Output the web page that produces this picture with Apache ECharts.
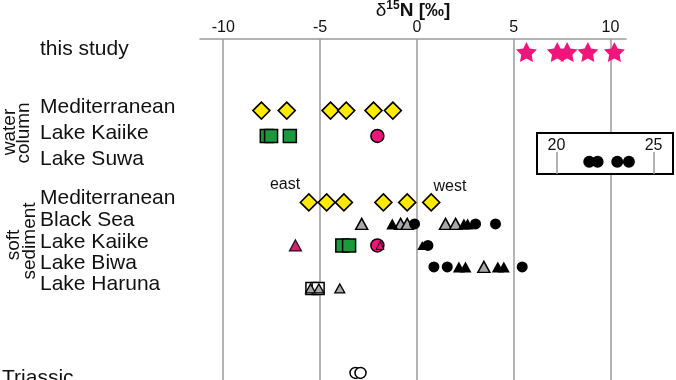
<!DOCTYPE html>
<html>
<head>
<meta charset="utf-8">
<script src="https://cdn.jsdelivr.net/npm/echarts@6/dist/echarts.min.js"></script>
<style>html,body{margin:0;padding:0;background:#fff}#c{width:676px;height:380px}</style>
</head>
<body>
<div id="c"></div>
<script>
// ---- categories (rows) ----
const rowNames = ['this study', 'Mediterranean', 'Lake Kaiike', 'Lake Suwa', 'Mediterranean', 'Black Sea', 'Lake Kaiike', 'Lake Biwa', 'Lake Haruna', 'Triassic'];
// ---- x tick labels ----
const xTicks = [-10, -5, 0, 5, 10];
const insetTicks = [20, 25];
// ---- δ15N values (‰) ----
const thisStudyStars = [5.66, 7.25, 7.76, 8.83, 10.2];
const medWaterDiamonds = [-8.03, -6.72, -4.46, -3.65, -2.24, -1.24];
const kaiikeWaterSquares = [-7.75, -7.53, -6.56];
const kaiikeWaterPinkCircles = [-2.04];
const suwaWaterCircles = [21.69, 22.12, 23.13, 23.73];
const medSedDiamonds = [-5.58, -4.66, -3.77, -1.73, -0.50, 0.74];
const blackSeaBlackTri = [-1.27, 2.43, 2.62];
const blackSeaGrayTri = [-2.85, -0.84, -0.50, 1.48, 2.00];
const blackSeaCircles = [-0.12, 3.03, 4.06];
const kaiikeSedPinkTri = [-6.27];
const kaiikeSedSquares = [-3.85, -3.5];
const kaiikeSedPinkCircles = [-2.04];
const kaiikeSedSmallPinkTri = [-1.9];
const kaiikeSedBlackTri = [0.28];
const kaiikeSedCircles = [0.57];
const biwaCircles = [0.88, 1.57, 5.44];
const biwaBlackTri = [2.17, 2.51, 4.18, 4.49];
const biwaGrayTri = [3.46];
const harunaOpenSquares = [-5.42, -5.1];
const harunaGrayTri = [-5.49, -5.06, -3.98];
const triassicOpenCircles = [-3.17, -2.91];
const annotations = ['east', 'west'];

// ---- layout (row positions on the hidden vertical axis) ----
const rowPos = [0, 2.73, 3.91, 5.11, 7, 8, 9, 10, 11, 14.93];
const labelPos = [-0.13, 2.55, 3.76, 5.0, 6.81, 7.82, 8.83, 9.83, 10.81, 15.17];
const annotationPos = [[-6.81, 6.19], [1.71, 6.28]];

const FONT = 'Liberation Sans, Arial, Helvetica, sans-serif';
const pts = (vals, r) => vals.map(v => [v, rowPos[r]]);
const STAR = 'path://M50,0 L64.69,29.77 L97.55,34.55 L73.78,57.73 L79.39,90.45 L50,75 L20.61,90.45 L26.22,57.73 L2.45,34.55 L35.31,29.77 Z';
const PINK = '#f0157b';
const YELLOW = '#ffea00';
const GREEN = '#1c9a3b';
const GRAY = '#a8a8a8';

function sc(name, data, symbol, size, color, border, bw, extra) {
  return Object.assign({
    name, type: 'scatter', data, symbol, symbolSize: size,
    xAxisIndex: 0, yAxisIndex: 0, silent: true,
    itemStyle: { color, borderColor: border || color, borderWidth: bw || 0, opacity: 1 }
  }, extra || {});
}

const chart = echarts.init(document.getElementById('c'), null, { renderer: 'canvas' });
chart.setOption({
  backgroundColor: '#fff',
  animation: false,
  textStyle: { fontFamily: FONT },
  grid: [
    { left: 200, right: 50, top: 39, bottom: 0, containLabel: false, outerBoundsMode: 'none' },
    { left: 537, top: 133, width: 136, height: 41, show: true, borderColor: '#000', borderWidth: 2, backgroundColor: '#fff', z: 3, containLabel: false, outerBoundsMode: 'none' }
  ],
  xAxis: [
    {
      type: 'value', gridIndex: 0, position: 'top', min: -11.2, max: 10.8,
      name: '{a|δ}{s|15}{b|N [‰]}', nameLocation: 'middle', nameGap: 17, nameMoveOverlap: false,
      nameTextStyle: { rich: {
        a: { fontSize: 19, color: '#111', fontFamily: FONT, lineHeight: 22 },
        s: { fontSize: 12, fontWeight: 'bold', color: '#111', fontFamily: FONT, verticalAlign: 'top', lineHeight: 13 },
        b: { fontSize: 19, fontWeight: 'bold', color: '#111', fontFamily: FONT, lineHeight: 22 }
      } },
      axisLine: { show: true, onZero: false, lineStyle: { color: '#9a9a9a', width: 1.5 } },
      axisTick: { show: false, customValues: xTicks },
      axisLabel: { customValues: xTicks, fontSize: 16, color: '#111', margin: 3, fontFamily: FONT },
      splitLine: { show: true, lineStyle: { color: '#9a9a9a', width: 1.5 } }
    },
    {
      type: 'value', gridIndex: 1, position: 'bottom', min: 19, max: 26, z: 4,
      axisLine: { show: false, onZero: false },
      axisTick: { show: true, inside: true, length: 22, customValues: insetTicks, lineStyle: { color: '#9a9a9a', width: 1.5 } },
      axisLabel: { show: true, inside: true, margin: 20, customValues: insetTicks, fontSize: 16, color: '#111', fontFamily: FONT },
      splitLine: { show: false }
    }
  ],
  yAxis: [
    {
      type: 'value', gridIndex: 0, inverse: true, min: -0.6, max: 15.26,
      axisLine: { show: false, onZero: false }, axisTick: { show: false }, splitLine: { show: false },
      axisLabel: {
        customValues: labelPos, align: 'left', margin: 198,
        formatter: v => {
          let best = 0, d = 1e9;
          labelPos.forEach((p, i) => { if (Math.abs(p - v) < d) { d = Math.abs(p - v); best = i; } });
          const nm = rowNames[best];
          return best === rowNames.length - 1 ? '{t|' + nm + '}' : '{r|' + nm + '}';
        },
        rich: {
          r: { fontSize: 21, color: '#111', fontFamily: FONT, padding: [0, 0, 0, 38] },
          t: { fontSize: 21, color: '#111', fontFamily: FONT }
        }
      }
    },
    { type: 'value', gridIndex: 1, min: 0, max: 1, show: false }
  ],
  graphic: [
    { type: 'text', x: 9.5, y: 132, rotation: Math.PI / 2, style: { text: 'water', font: '19px ' + FONT, fill: '#111', align: 'center', verticalAlign: 'middle' } },
    { type: 'text', x: 24, y: 133, rotation: Math.PI / 2, style: { text: 'column', font: '19px ' + FONT, fill: '#111', align: 'center', verticalAlign: 'middle' } },
    { type: 'text', x: 14, y: 245, rotation: Math.PI / 2, style: { text: 'soft', font: '19px ' + FONT, fill: '#111', align: 'center', verticalAlign: 'middle' } },
    { type: 'text', x: 29.5, y: 241, rotation: Math.PI / 2, style: { text: 'sediment', font: '19px ' + FONT, fill: '#111', align: 'center', verticalAlign: 'middle' } }
  ],
  series: [
    sc('this study', pts(thisStudyStars, 0), STAR, [21, 20], PINK),
    sc('med water', pts(medWaterDiamonds, 1), 'diamond', 17, YELLOW, '#000', 1.6),
    sc('kaiike water sq', pts(kaiikeWaterSquares, 2), 'rect', 13, GREEN, '#000', 1.5),
    sc('kaiike water circ', pts(kaiikeWaterPinkCircles, 2), 'circle', 13, PINK, '#000', 1.5),
    sc('med sed', pts(medSedDiamonds, 4), 'diamond', 17, YELLOW, '#000', 1.6),
    sc('bs gray tri', pts(blackSeaGrayTri, 5), 'triangle', [12, 11], GRAY, '#000', 1.5),
    sc('bs black tri', pts(blackSeaBlackTri, 5), 'triangle', [12, 11], '#000'),
    sc('bs circ', pts(blackSeaCircles, 5), 'circle', 11, '#000'),
    sc('kaiike sed pink tri', pts(kaiikeSedPinkTri, 6), 'triangle', [12, 11], '#d0236d', '#2a0a18', 1.2),
    sc('kaiike sed sq', pts(kaiikeSedSquares, 6), 'rect', 13, GREEN, '#000', 1.5),
    sc('kaiike sed pink circ', pts(kaiikeSedPinkCircles, 6), 'circle', 13, PINK, '#000', 1.5),
    sc('kaiike sed small tri', pts(kaiikeSedSmallPinkTri, 6), 'triangle', [8, 8], '#e0157a', '#000', 1),
    sc('kaiike sed black tri', pts(kaiikeSedBlackTri, 6), 'triangle', [10, 9], '#000'),
    sc('kaiike sed circ', pts(kaiikeSedCircles, 6), 'circle', 11, '#000'),
    sc('biwa circ', pts(biwaCircles, 7), 'circle', 11, '#000'),
    sc('biwa black tri', pts(biwaBlackTri, 7), 'triangle', [12, 11], '#000'),
    sc('biwa gray tri', pts(biwaGrayTri, 7), 'triangle', [12, 11], GRAY, '#000', 1.5),
    sc('haruna sq', pts(harunaOpenSquares, 8), 'rect', 12, '#fff', '#000', 1.5),
    sc('haruna tri', pts(harunaGrayTri, 8), 'triangle', [10, 9], GRAY, '#000', 1.3),
    sc('triassic', pts(triassicOpenCircles, 9), 'circle', 11, '#fff', '#000', 1.5),
    {
      name: 'suwa', type: 'scatter', xAxisIndex: 1, yAxisIndex: 1, z: 5, silent: true,
      data: suwaWaterCircles.map(v => [v, 0.3]), symbol: 'circle', symbolSize: 12,
      itemStyle: { color: '#000', opacity: 1 }
    },
    {
      name: 'annotations', type: 'scatter', xAxisIndex: 0, yAxisIndex: 0, silent: true,
      symbolSize: 1, itemStyle: { color: 'rgba(0,0,0,0)' },
      data: annotations.map((t, i) => ({ value: annotationPos[i], name: t })),
      label: { show: true, position: 'inside', formatter: p => p.name, fontSize: 16, color: '#111', opacity: 1, fontFamily: FONT, textBorderWidth: 0 }
    }
  ]
});
</script>
</body>
</html>
